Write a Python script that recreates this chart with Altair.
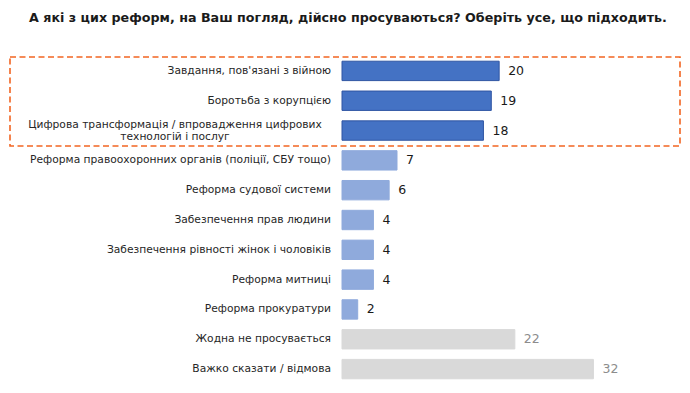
import altair as alt
import pandas as pd

categories = [
    "Завдання, пов'язані з війною",
    "Боротьба з корупцією",
    "Цифрова трансформація / впровадження цифрових|технологій і послуг",
    "Реформа правоохоронних органів (поліції, СБУ тощо)",
    "Реформа судової системи",
    "Забезпечення прав людини",
    "Забезпечення рівності жінок і чоловіків",
    "Реформа митниці",
    "Реформа прокуратури",
    "Жодна не просувається",
    "Важко сказати / відмова",
]
values = [20, 19, 18, 7, 6, 4, 4, 4, 2, 22, 32]
groups = ["top", "top", "top", "mid", "mid", "mid", "mid", "mid", "mid", "other", "other"]

df = pd.DataFrame({"cat": categories, "value": values, "group": groups})
df["lines"] = df["cat"].str.split("|")
df["multi"] = df["lines"].str.len() > 1
df["tcol"] = df["group"].map({"top": "#1A1A1A", "mid": "#1A1A1A", "other": "#8C8C8C"})

title_text = "А які з цих реформ, на Ваш погляд, дійсно просуваються? Оберіть усе, що підходить."

FONT = "DejaVu Sans"

y = alt.Y("cat:N", sort=categories, axis=None,
          scale=alt.Scale(paddingInner=0.35, paddingOuter=0.175))
x = alt.X("value:Q", axis=None, scale=alt.Scale(domain=[0, 42]))

color = alt.Color("group:N", legend=None,
                  scale=alt.Scale(domain=["top", "mid", "other"],
                                  range=["#4472C4", "#8FAADC", "#D9D9D9"]))
stroke = alt.Stroke("group:N", legend=None,
                    scale=alt.Scale(domain=["top", "mid", "other"],
                                    range=["#2F55A3", "#8FAADC", "#D9D9D9"]))

base = alt.Chart(df)

bars = base.mark_bar(strokeWidth=1).encode(y=y, x=x, color=color, stroke=stroke)

vals = base.mark_text(align="left", baseline="middle", dx=9, fontSize=12.5, font=FONT).encode(
    y=y, x=x, text="value:Q", fill=alt.Fill("tcol:N", scale=None, legend=None),
)

labels_single = base.transform_filter("!datum.multi").mark_text(
    align="right", baseline="middle", fontSize=10.7, font=FONT, color="#262626"
).encode(y=y, x=alt.value(-11), text="cat:N")

labels_multi = base.transform_filter("datum.multi").mark_text(
    align="center", baseline="middle", fontSize=10.7, font=FONT, color="#262626",
    lineHeight=12.5, dy=-6
).encode(y=y, x=alt.value(-167), text="lines")

box = alt.Chart(pd.DataFrame({"a": [0]})).mark_rect(
    fill="transparent", stroke="#F26522", strokeWidth=1.6, strokeDash=[6, 3.5], clip=False
).encode(x=alt.value(-332), x2=alt.value(338), y=alt.value(1), y2=alt.value(90))

chart = alt.layer(box, bars, vals, labels_single, labels_multi).properties(
    width=330, height=328,
    background="white",
    autosize=alt.AutoSizeParams(type="none"),
    padding={"left": 334, "top": 48, "right": 10, "bottom": 1},
    title=alt.TitleParams(title_text, font=FONT, fontSize=12.7, fontWeight="bold",
                          color="#1A1A1A", anchor="middle", dx=-159, offset=31),
).configure_view(strokeWidth=0, stroke="transparent")

chart.save("out.html", embed_options={"renderer": "svg", "actions": False})
